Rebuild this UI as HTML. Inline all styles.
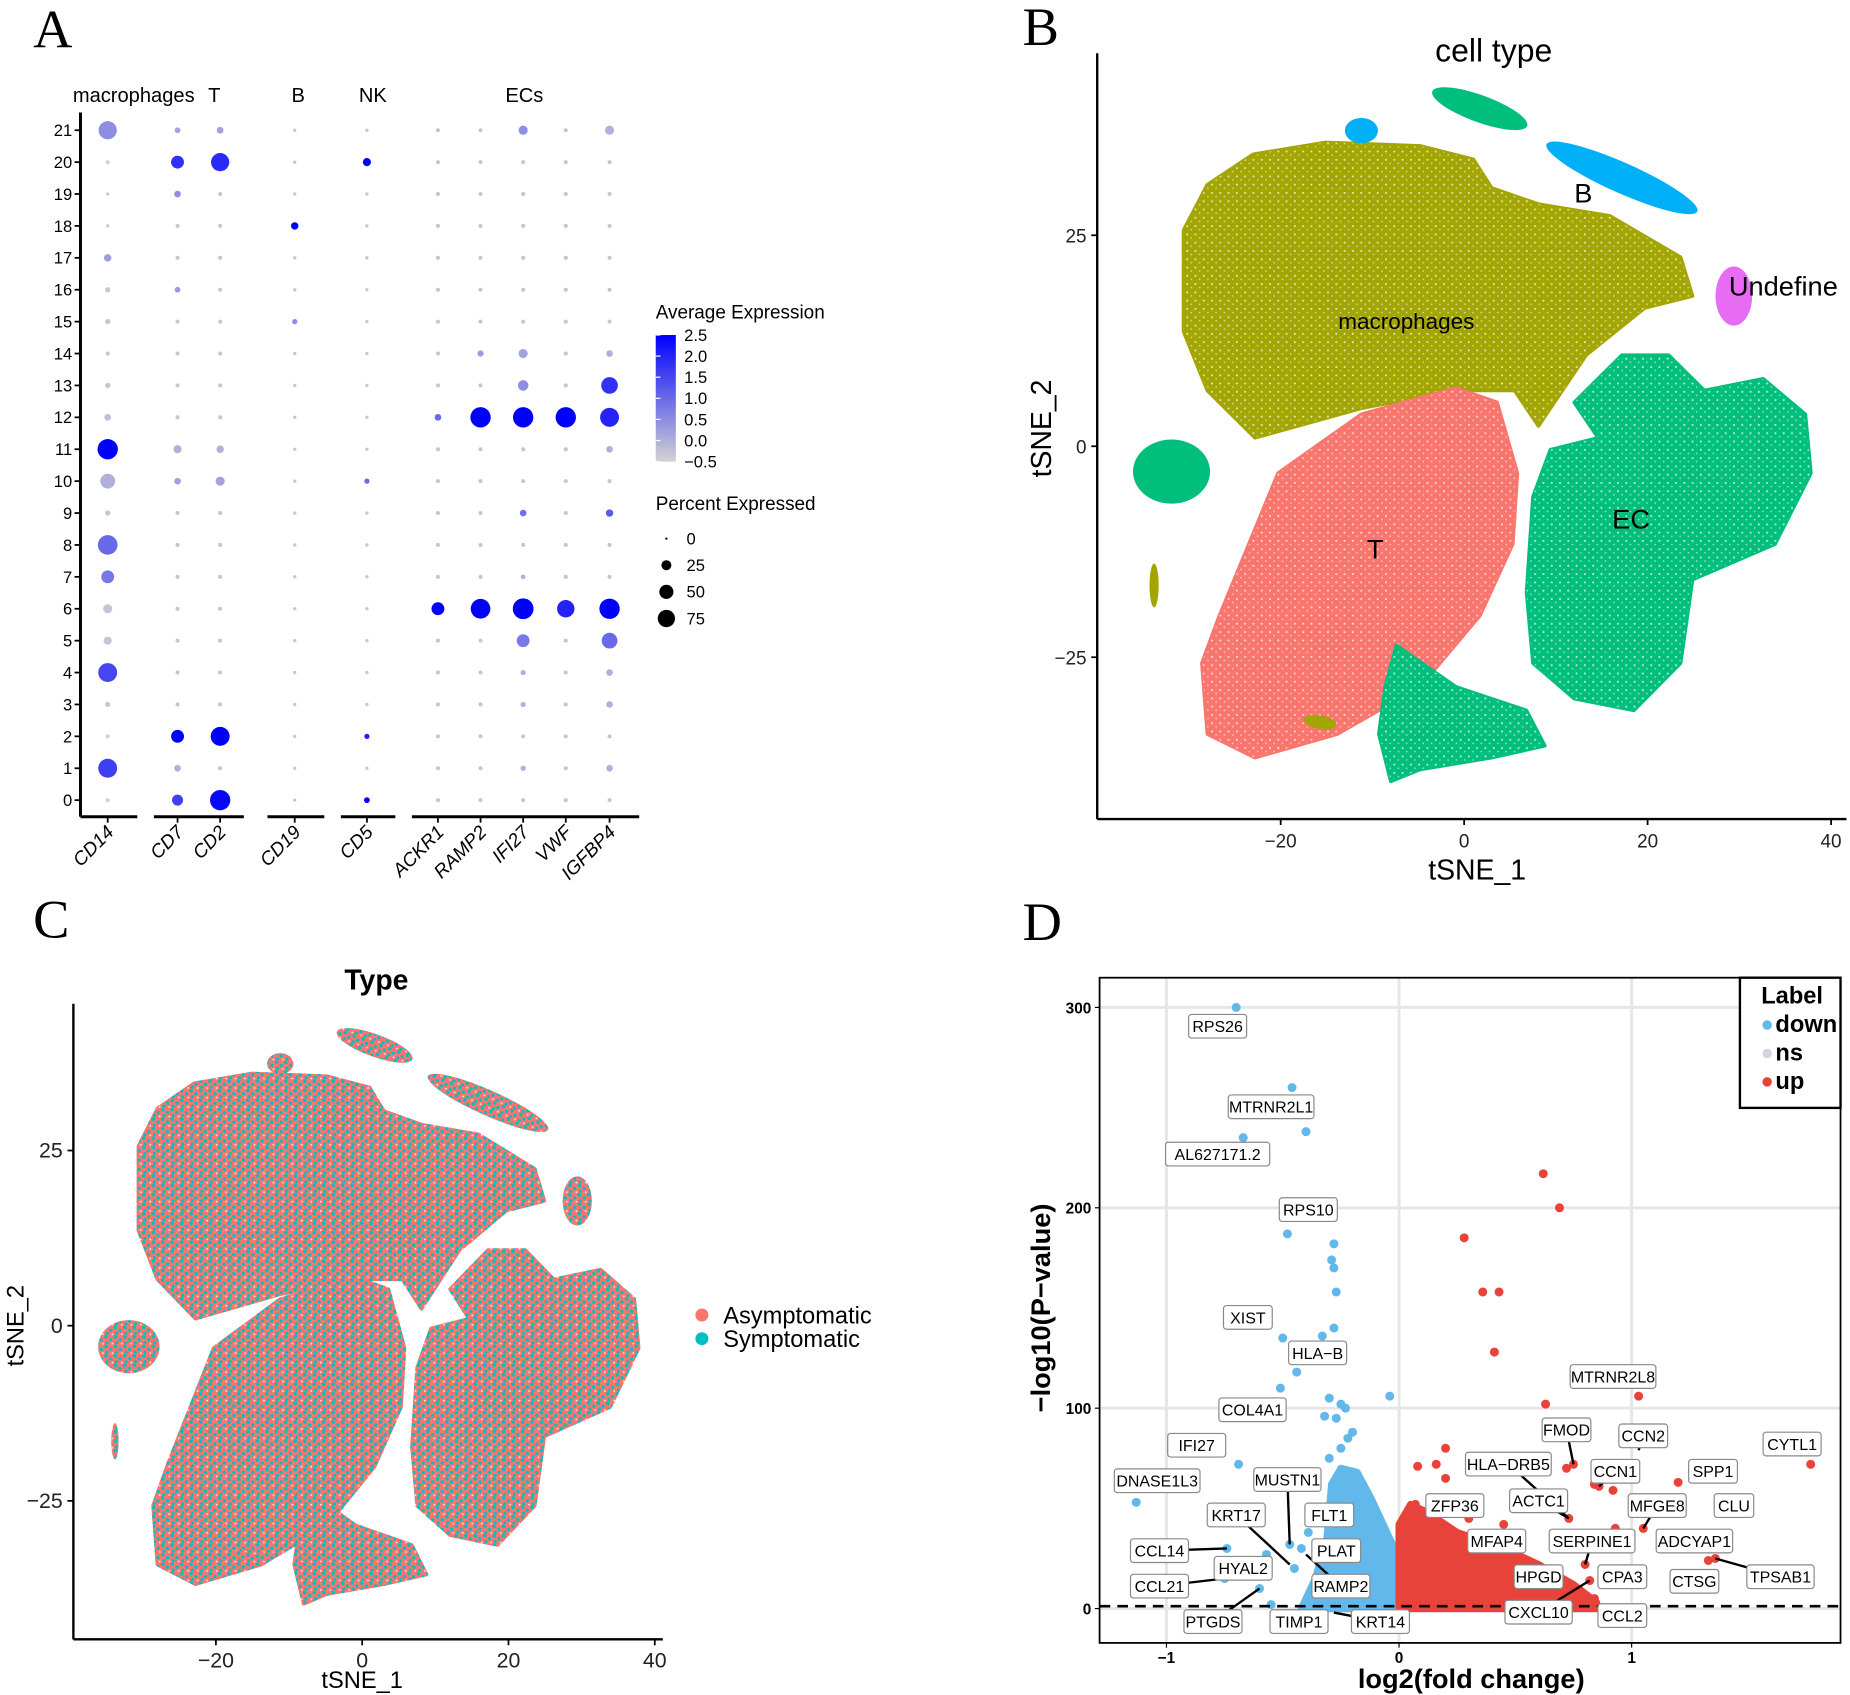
<!DOCTYPE html>
<html><head><meta charset="utf-8">
<style>
html,body{margin:0;padding:0;background:#fff;}
svg{display:block;font-family:"Liberation Sans",Arial,sans-serif;}
</style></head>
<body>
<svg id="fig" width="1850" height="1695" viewBox="0 0 1563 1432" xmlns="http://www.w3.org/2000/svg">
<defs>
  <pattern id="speckW" width="7" height="7" patternUnits="userSpaceOnUse">
    <circle cx="2" cy="2" r="0.9" fill="#fff" opacity="0.7"/><circle cx="5.5" cy="5" r="0.7" fill="#fff" opacity="0.6"/>
  </pattern>
  <pattern id="mixC" width="8" height="8" patternUnits="userSpaceOnUse">
    <rect width="8" height="8" fill="#f8766d"/>
    <circle cx="1.5" cy="1.5" r="1.5" fill="#00bfc4"/><circle cx="5.5" cy="4" r="1.4" fill="#00bfc4"/>
    <circle cx="2.5" cy="6.5" r="1.3" fill="#00bfc4"/><circle cx="7" cy="7.2" r="0.7" fill="#fff"/>
  </pattern>
  <linearGradient id="cbar" x1="0" y1="0" x2="0" y2="1">
    <stop offset="0" stop-color="#0000ff"/><stop offset="1" stop-color="#d3d3d3"/>
  </linearGradient>
</defs>
<g id="panelA"></g>
<g id="panelB"></g>
<g id="panelC"></g>
<g id="panelD"></g>
</svg>
<script>
// ---------- Panel A data ----------
const genes = ["CD14","CD7","CD2","CD19","CD5","ACKR1","RAMP2","IFI27","VWF","IGFBP4"];
const clusters = [0,1,2,3,4,5,6,7,8,9,10,11,12,13,14,15,16,17,18,19,20,21];
const pctCD14  = [3,65,3,5,65,12,15,30,70,5,40,75,8,5,3,5,5,10,2,2,3,60];
const pctCD7   = [22,8,30,3,3,3,3,3,3,3,8,12,3,3,3,3,6,3,3,8,30,6];
const pctCD2   = [75,3,65,3,3,3,3,3,3,3,15,10,3,3,3,3,3,3,3,3,60,8];
const pctCD19  = [2,2,2,2,2,2,2,2,2,2,2,2,2,2,2,5,2,2,10,2,2,2];
const pctCD5   = [6,2,5,2,2,2,2,2,2,2,5,2,2,2,2,2,2,2,2,2,12,2];
const pctACKR1 = [3,3,3,3,3,3,30,3,3,3,3,3,8,3,3,3,3,3,3,3,3,3];
const pctRAMP2 = [3,3,3,3,3,3,70,3,3,3,3,3,75,3,7,3,3,3,3,3,3,3];
const pctIFI27 = [3,5,3,5,5,30,78,4,3,8,3,3,75,20,15,3,3,3,3,3,3,15];
const pctVWF   = [3,3,3,3,3,3,55,3,3,3,3,3,75,3,3,3,3,3,3,3,3,3];
const pctIGFBP4= [3,8,3,8,8,45,75,3,3,10,3,8,65,50,8,3,3,3,3,3,3,15];
const avgCD14  = [-0.5,1.6,-0.5,-0.3,1.5,-0.3,-0.3,0.8,1.0,-0.3,0.0,2.5,-0.2,-0.3,-0.3,-0.3,-0.3,0.3,-0.3,-0.3,-0.5,0.5];
const avgCD7   = [1.6,0.0,2.5,-0.3,-0.3,-0.3,-0.3,-0.3,-0.3,-0.3,0.2,0.0,-0.3,-0.3,-0.3,-0.3,0.3,-0.3,-0.3,0.5,1.8,0.2];
const avgCD2   = [2.4,-0.3,2.5,-0.3,-0.3,-0.3,-0.3,-0.3,-0.3,-0.3,0.2,0.0,-0.3,-0.3,-0.3,-0.3,-0.3,-0.3,-0.3,-0.3,1.9,0.2];
const avgCD19  = [-0.3,-0.3,-0.3,-0.3,-0.3,-0.3,-0.3,-0.3,-0.3,-0.3,-0.3,-0.3,-0.3,-0.3,-0.3,0.5,-0.3,-0.3,2.5,-0.3,-0.3,-0.3];
const avgCD5   = [2.5,-0.3,2.0,-0.3,-0.3,-0.3,-0.3,-0.3,-0.3,-0.3,1.0,-0.3,-0.3,-0.3,-0.3,-0.3,-0.3,-0.3,-0.3,-0.3,2.5,-0.3];
const avgACKR1 = [-0.3,-0.3,-0.3,-0.3,-0.3,-0.3,2.5,-0.3,-0.3,-0.3,-0.3,-0.3,1.0,-0.3,-0.3,-0.3,-0.3,-0.3,-0.3,-0.3,-0.3,-0.3];
const avgRAMP2 = [-0.3,-0.3,-0.3,-0.3,-0.3,-0.3,2.5,-0.3,-0.3,-0.3,-0.3,-0.3,2.5,-0.3,0.3,-0.3,-0.3,-0.3,-0.3,-0.3,-0.3,-0.3];
const avgIFI27 = [-0.3,0.0,-0.3,0.0,0.0,0.8,2.5,0.0,-0.3,0.9,-0.3,-0.3,2.5,0.5,0.2,-0.3,-0.3,-0.3,-0.3,-0.3,-0.3,0.5];
const avgVWF   = [-0.3,-0.3,-0.3,-0.3,-0.3,-0.3,2.0,-0.3,-0.3,-0.3,-0.3,-0.3,2.5,-0.3,-0.3,-0.3,-0.3,-0.3,-0.3,-0.3,-0.3,-0.3];
const avgIGFBP4= [-0.3,0.0,-0.3,0.0,0.0,1.0,2.5,-0.3,-0.3,1.2,-0.3,0.0,2.0,1.8,0.0,-0.3,-0.3,-0.3,-0.3,-0.3,-0.3,0.0];
const pctSeries = [pctCD14,pctCD7,pctCD2,pctCD19,pctCD5,pctACKR1,pctRAMP2,pctIFI27,pctVWF,pctIGFBP4];
const avgSeries = [avgCD14,avgCD7,avgCD2,avgCD19,avgCD5,avgACKR1,avgRAMP2,avgIFI27,avgVWF,avgIGFBP4];
const groupNames = ["macrophages","T","B","NK","ECs"];
const colorTicks = [2.5,2.0,1.5,1.0,0.5,0.0,-0.5];
const sizeTicks = [0,25,50,75];

// ---------- Panel B/C data ----------
const macroOutline = [[-30.6,25.6],[-28,31],[-23,34.6],[-15.1,36.0],[-4.8,35.6],[1.0,34.0],[3.0,30.6],[8.1,28.7],[15.9,27.3],[23.6,22.4],[24.9,17.8],[19.7,16.4],[13.3,10.8],[8.1,2.4],[5.5,6.6],[-0.9,6.6],[-11.2,4.5],[-22.8,1.0],[-28.0,6.6],[-30.6,13.6]];
const tOutline = [[-28.6,-25.7],[-26.7,-20.1],[-20.3,-3.2],[-11.2,3.8],[-0.9,6.9],[3.6,5.2],[5.8,-3.2],[5.3,-11.6],[1.7,-20.1],[-4.8,-28.5],[-13.8,-34.1],[-22.8,-36.9],[-28.0,-34.1]];
const ecOutline = [[6.8,-17.3],[7.5,-6.0],[9.4,-0.4],[14.6,1.0],[12.0,5.2],[17.2,10.8],[22.3,10.8],[26.2,6.6],[32.6,8.0],[37.2,3.8],[37.8,-3.2],[33.9,-11.6],[24.9,-15.8],[23.6,-25.7],[18.5,-31.3],[12.0,-29.9],[7.5,-25.7]];
const ecBottomOutline = [[-8.6,-28.5],[-7.4,-23.6],[-0.9,-28.5],[6.8,-31.3],[8.8,-35.5],[3.0,-36.9],[-4.8,-38.3],[-8.0,-39.7],[-9.3,-34.1]];
const smallClusters = [[-31.9,-3.0,4.2,3.8,0,"EC"],[1.7,40.0,5.5,1.6,20,"EC"],[-11.2,37.4,1.8,1.5,0,"B"],[17.2,31.8,9.0,1.8,24,"B"],[29.4,17.8,2.0,3.5,0,"Undefine"],[-15.7,-32.7,1.8,0.8,10,"macrophages"],[-33.8,-16.5,0.5,2.6,0,"macrophages"]];
const clusterLabels = [["B",13.0,30.0],["Undefine",34.8,19.0],["macrophages",-6.3,15.0],["T",-9.7,-12.2],["EC",18.2,-8.6]];
const tsneXTicks = [-20,0,20,40];
const tsneYTicks = [25,0,-25];

// ---------- Panel D data ----------
const downX = [-0.7,-0.46,-0.4,-0.67,-0.48,-0.28,-0.29,-0.28,-0.27,-0.5,-0.28,-0.33,-0.28,-0.44,-0.51,-0.3,-0.25,-0.23,-0.32,-0.27,-0.04,-0.3,-0.69,-1.13,-0.74,-0.57,-0.6,-0.75,-0.47,-0.39,-0.42,-0.55,-0.25,-0.22,-0.2,-0.35,-0.33,-0.45];
const downY = [300,260,238,235,187,182,174,170,158,135,140,136,128,118,110,105,102,100,96,95,106,75,72,53,30,27,10,15,32,38,30,2,80,85,88,45,25,20];
const upX = [0.62,0.69,0.28,0.36,0.43,0.41,0.63,1.03,0.2,0.08,0.16,0.2,0.72,0.75,0.84,0.86,0.92,1.2,1.77,0.07,0.73,0.93,1.05,1.36,1.33,0.8,0.82,0.84,0.5,0.6,0.55,0.7,0.45,0.3];
const upY = [217,200,185,158,158,128,102,106,80,71,72,65,70,72,62,61,59,63,72,52,45,40,40,25,24,22,14,5,10,12,15,8,42,45];
const downCloud = [[-0.42,0],[-0.36,15],[-0.31,35],[-0.29,62],[-0.25,70],[-0.18,68],[-0.12,55],[-0.06,40],[0,25],[0,0]];
const upCloud = [[0,0],[0,42],[0.05,52],[0.12,48],[0.25,38],[0.45,30],[0.6,22],[0.75,12],[0.85,3],[0.85,0]];
const geneLabels = ["RPS26","MTRNR2L1","AL627171.2","RPS10","XIST","HLA-B","COL4A1","IFI27","DNASE1L3","MUSTN1","KRT17","FLT1","CCL14","PLAT","HYAL2","CCL21","RAMP2","PTGDS","TIMP1","KRT14","MTRNR2L8","FMOD","CCN2","CYTL1","HLA-DRB5","CCN1","SPP1","ZFP36","ACTC1","MFGE8","CLU","MFAP4","SERPINE1","ADCYAP1","HPGD","CPA3","CTSG","TPSAB1","CXCL10","CCL2"];
const labelX = [-0.78,-0.55,-0.78,-0.39,-0.65,-0.35,-0.63,-0.87,-1.04,-0.48,-0.70,-0.30,-1.03,-0.27,-0.67,-1.03,-0.25,-0.80,-0.43,-0.08,0.92,0.72,1.05,1.69,0.47,0.93,1.35,0.24,0.60,1.11,1.44,0.42,0.83,1.27,0.60,0.96,1.27,1.64,0.60,0.96];
const labelY = [290.6,250.4,226.8,199.1,145.3,127.6,99.2,81.5,63.8,64.4,46.7,46.7,28.9,28.9,20.1,11.2,11.2,-6.5,-6.5,-6.5,115.8,89.2,86.2,82.1,72.1,68.5,68.5,51.4,53.8,51.4,51.4,33.7,33.7,33.7,15.9,15.9,13.6,15.9,-1.8,-3.5];
const volXTicks = [-1,0,1];
const volYTicks = [0,100,200,300];

const NS = "http://www.w3.org/2000/svg";
function mk(parent, tag, attrs, text) {
  const e = document.createElementNS(NS, tag);
  for (const k in attrs) e.setAttribute(k, attrs[k]);
  if (text !== undefined) e.textContent = text;
  parent.appendChild(e);
  return e;
}
function txt(parent, x, y, s, size, opts, name) {
  const o = Object.assign({x:x, y:y, "font-size":size, fill:"#000"}, opts || {});
  const t = mk(parent, "text", o, s);
  
  
  return t;
}
function panelLetter(parent, s, x, y) {
  const t = mk(parent, "text", {x:x, y:y, "font-size":46, "font-family":"Liberation Serif, serif"}, s);
  
  
}

// ================= Panel A =================
(function(){
  const g = document.getElementById("panelA");
  panelLetter(g, "A", 28, 40);
  const colX = [91,150,186,249,310,370,406,442,478,515];
  const yA = c => 676 - c * (566/21);
  const colorOf = v => { let t = Math.max(0, Math.min(1, (v + 0.5) / 3)); const r = Math.round(211*(1-t)); const b = Math.round(211 + 44*t); return `rgb(${r},${r},${b})`; };
  const sizeOf = p => Math.max(1.2, Math.sqrt(p/75) * 8.6);
  const groupX = [113,181,252,315,443];
  groupNames.forEach((n,i) => txt(g, groupX[i], 86, n, 17, {"text-anchor":"middle"}, 'group-label-' + n.toLowerCase()));
  const ax = mk(g, "line", {x1:68, y1:95, x2:68, y2:690, stroke:"#000", "stroke-width":2.5});
   
  clusters.forEach(c => {
    const y = yA(c);
    const tk = mk(g, "line", {x1:63, y1:y, x2:68, y2:y, stroke:"#000", "stroke-width":1.5});
     
    txt(g, 61, y + 5, String(c), 14, {"text-anchor":"end"}, 'y-tick-label');
  });
  const segs = [[68,116],[130,206],[226,274],[288,334],[348,540]];
  segs.forEach(s => {
    const l = mk(g, "line", {x1:s[0], y1:690, x2:s[1], y2:690, stroke:"#000", "stroke-width":2.5});
     
  });
  genes.forEach((gn, j) => {
    const x = colX[j];
    const tk = mk(g, "line", {x1:x, y1:690, x2:x, y2:695, stroke:"#000", "stroke-width":1.5});
     
    txt(g, x + 6, 704, gn, 16, {"text-anchor":"end", "font-style":"italic", transform:`rotate(-45 ${x+6} 704)`}, 'gene-label-' + gn.toLowerCase());
    clusters.forEach(c => {
      const d = mk(g, "circle", {cx:x, cy:yA(c), r:sizeOf(pctSeries[j][c]), fill:colorOf(avgSeries[j][c])});
      
      
    });
  });
  txt(g, 554, 269, "Average Expression", 16, {}, 'color-legend-title');
  const cb = mk(g, "rect", {x:554, y:283, width:17, height:107, fill:"url(#cbar)"});
   
  colorTicks.forEach(v => {
    const y = 283 + (2.5 - v) / 3 * 107;
    const l = mk(g, "line", {x1:554, y1:y, x2:558, y2:y, stroke:"#fff"});
     
    txt(g, 578, y + 5, v.toFixed(1).replace("-", "\u2212"), 14, {}, 'colorbar-tick-label');
  });
  txt(g, 554, 431, "Percent Expressed", 16, {}, 'size-legend-title');
  sizeTicks.forEach((p, i) => {
    const y = 455 + i * 22.5;
    const d = mk(g, "circle", {cx:563, cy:y, r:sizeOf(p) * (p===0?0.8:0.85), fill:"#000"});
     
    txt(g, 580, y + 5, String(p), 14, {}, 'size-legend-label');
  });
})();

function drawTsne(g, sx, sy, fills, outlined) {
  const pts = arr => arr.map(p => sx(p[0]).toFixed(1) + "," + sy(p[1]).toFixed(1)).join(" ");
  const shapes = [[macroOutline,"macrophages"],[tOutline,"T"],[ecOutline,"EC"],[ecBottomOutline,"EC"]];
  shapes.forEach(([o, type]) => {
    const p = mk(g, "polygon", {points:pts(o), fill:fills[type], stroke:fills[type], "stroke-width":3, "stroke-linejoin":"round"});
    
    
    if (outlined) {
      const q = mk(g, "polygon", {points:pts(o), fill:"url(#speckW)"});
       
    }
  });
  smallClusters.forEach(c => {
    const cx = sx(c[0]), cy = sy(c[1]);
    const rx = Math.abs(sx(c[0] + c[2]) - cx), ry = Math.abs(sy(c[1] + c[3]) - cy);
    const e = mk(g, "ellipse", {cx:cx, cy:cy, rx:rx, ry:ry, fill:fills[c[5]], transform:`rotate(${c[4]} ${cx} ${cy})`});
    
    
  });
}
function tsneAxes(g, sx, sy, x0, x1, y0, y1, fs) {
  const a1 = mk(g, "line", {x1:x0, y1:y0, x2:x0, y2:y1, stroke:"#000", "stroke-width":2});
   
  const a2 = mk(g, "line", {x1:x0, y1:y1, x2:x1, y2:y1, stroke:"#000", "stroke-width":2});
   
  tsneXTicks.forEach(v => {
    const x = sx(v);
    const t = mk(g, "line", {x1:x, y1:y1, x2:x, y2:y1 + 5, stroke:"#000", "stroke-width":1.5});
     
    txt(g, x, y1 + 24, String(v).replace("-", "\u2212"), fs, {"text-anchor":"middle", fill:"#222"}, 'x-tick-label');
  });
  tsneYTicks.forEach(v => {
    const y = sy(v);
    const t = mk(g, "line", {x1:x0 - 5, y1:y, x2:x0, y2:y, stroke:"#000", "stroke-width":1.5});
     
    txt(g, x0 - 9, y + 6, String(v).replace("-", "\u2212"), fs, {"text-anchor":"end", fill:"#222"}, 'y-tick-label');
  });
}

(function(){
  const g = document.getElementById("panelB");
  panelLetter(g, "B", 864, 38);
  const sx = v => 1237 + v * 7.75, sy = v => 377 - v * 7.13;
  const fills = {macrophages:"#a3a500", T:"#f8766d", EC:"#00bf7d", B:"#00b0f6", Undefine:"#e76bf3"};
  drawTsne(g, sx, sy, fills, true);
  tsneAxes(g, sx, sy, 927, 1560, 45, 692, 16);
  clusterLabels.forEach(l => txt(g, sx(l[1]), sy(l[2]) + 8, l[0], l[0]==="macrophages" ? 19 : 23, {"text-anchor":"middle"}, 'cluster-label-' + l[0].toLowerCase()));
  txt(g, 1262, 52, "cell type", 27, {"text-anchor":"middle"}, 'chart-title');
  txt(g, 1248, 743, "tSNE_1", 24, {"text-anchor":"middle"}, 'x-axis-title');
  txt(g, 888, 362, "tSNE_2", 24, {"text-anchor":"middle", transform:"rotate(-90 888 362)"}, 'y-axis-title');
})();

(function(){
  const g = document.getElementById("panelC");
  panelLetter(g, "C", 28, 792);
  const sx = v => 306 + v * 6.18, sy = v => 1120 - v * 5.92;
  const fills = {macrophages:"url(#mixC)", T:"url(#mixC)", EC:"url(#mixC)", B:"url(#mixC)", Undefine:"url(#mixC)"};
  drawTsne(g, sx, sy, fills, false);
  tsneAxes(g, sx, sy, 62, 560, 848, 1385, 18);
  txt(g, 318, 836, "Type", 24, {"text-anchor":"middle", "font-weight":"bold"}, 'chart-title');
  txt(g, 306, 1426, "tSNE_1", 20, {"text-anchor":"middle"}, 'x-axis-title');
  txt(g, 20, 1120, "tSNE_2", 20, {"text-anchor":"middle", transform:"rotate(-90 20 1120)"}, 'y-axis-title');
  const items = [["Asymptomatic","#f8766d"],["Symptomatic","#00bfc4"]];
  items.forEach((it, i) => {
    const y = 1111 + i * 20;
    const d = mk(g, "circle", {cx:593, cy:y, r:5.5, fill:it[1]});
     
    txt(g, 611, y + 7, it[0], 20, {}, 'legend-entry-' + it[0].toLowerCase());
  });
})();

(function(){
  const g = document.getElementById("panelD");
  panelLetter(g, "D", 864, 794);
  const sx = v => 1182 + v * 196.5, sy = v => 1359 - v * 1.693;
  const L = 929, R = 1555, T = 826, B = 1388;
  const bg = mk(g, "rect", {x:L, y:T, width:R-L, height:B-T, fill:"#fff"});
   
  volXTicks.forEach(v => { const l = mk(g, "line", {x1:sx(v), y1:T, x2:sx(v), y2:B, stroke:"#e6e6e6", "stroke-width":2.5});   });
  volYTicks.forEach(v => { const l = mk(g, "line", {x1:L, y1:sy(v), x2:R, y2:sy(v), stroke:"#e6e6e6", "stroke-width":2.5});   });
  const pts = arr => arr.map(p => sx(p[0]).toFixed(1) + "," + sy(p[1]).toFixed(1)).join(" ");
  const ns = mk(g, "rect", {x:sx(-0.4), y:sy(1), width:sx(0.9)-sx(-0.4), height:sy(-2)-sy(1), fill:"#d0d5de"});
   
  const dc = mk(g, "polygon", {points:pts(downCloud), fill:"#62b8eb", stroke:"#62b8eb", "stroke-width":6, "stroke-linejoin":"round"});
   
  const uc = mk(g, "polygon", {points:pts(upCloud), fill:"#e8433a", stroke:"#e8433a", "stroke-width":6, "stroke-linejoin":"round"});
   
  downX.forEach((x, i) => { const c = mk(g, "circle", {cx:sx(x), cy:sy(downY[i]), r:3.8, fill:"#62b8eb"});   });
  upX.forEach((x, i) => { const c = mk(g, "circle", {cx:sx(x), cy:sy(upY[i]), r:3.8, fill:"#e8433a"});   });
  const dash = mk(g, "line", {x1:L, y1:sy(0)-2, x2:R, y2:sy(0)-2, stroke:"#000", "stroke-width":2.2, "stroke-dasharray":"9,6"});
   
  const leaders = [[9,-0.47,32],[10,-0.47,22],[12,-0.74,30],[15,-0.75,15],[17,-0.6,10],[19,-0.28,-2],[16,-0.4,27],[21,0.75,72],[22,1.03,79],[25,0.86,61],[28,0.73,45],[29,1.05,40],[32,0.8,22],[37,1.36,25],[38,0.82,14],[24,0.73,45]];
  leaders.forEach(l => {
    const i = l[0];
    const ln = mk(g, "line", {x1:sx(labelX[i]), y1:sy(labelY[i]), x2:sx(l[1]), y2:sy(l[2]), stroke:"#000", "stroke-width":2});
     
  });
  geneLabels.forEach((s, i) => {
    const cx = sx(labelX[i]), cy = sy(labelY[i]);
    const w = s.length * 7.8 + 10;
    const r = mk(g, "rect", {x:cx - w/2, y:cy - 10, width:w, height:20, rx:2.5, fill:"#fff", stroke:"#888", "stroke-width":1});
     
    txt(g, cx, cy + 5, s.replace("-", "\u2212"), 13.5, {"text-anchor":"middle"}, 'gene-label-' + s.toLowerCase());
  });
  const fr = mk(g, "rect", {x:L, y:T, width:R-L, height:B-T, fill:"none", stroke:"#000", "stroke-width":1.5});
   
  volXTicks.forEach(v => {
    const t = mk(g, "line", {x1:sx(v), y1:B, x2:sx(v), y2:B + 4, stroke:"#000"});
     
    txt(g, sx(v), B + 17, String(v).replace("-", "\u2212"), 13, {"text-anchor":"middle", "font-weight":"bold"}, 'x-tick-label');
  });
  volYTicks.forEach(v => {
    const t = mk(g, "line", {x1:L - 4, y1:sy(v), x2:L, y2:sy(v), stroke:"#000"});
     
    txt(g, L - 7, sy(v) + 5, String(v), 13, {"text-anchor":"end", "font-weight":"bold"}, 'y-tick-label');
  });
  txt(g, 1243, 1426, "log2(fold change)", 23, {"text-anchor":"middle", "font-weight":"bold"}, 'x-axis-title');
  txt(g, 887, 1105, "\u2212log10(P\u2212value)", 23, {"text-anchor":"middle", "font-weight":"bold", transform:"rotate(-90 887 1105)"}, 'y-axis-title');
  const lb = mk(g, "rect", {x:1470, y:826, width:85, height:110, fill:"#fff", stroke:"#000", "stroke-width":2});
   
  txt(g, 1488, 848, "Label", 20, {"font-weight":"bold"}, 'legend-title');
  const li = [["down","#62b8eb"],["ns","#d0d5de"],["up","#e8433a"]];
  li.forEach((it, i) => {
    const y = 866 + i * 24;
    const c = mk(g, "circle", {cx:1493, cy:y, r:4, fill:it[1]});
     
    txt(g, 1500, y + 6, it[0], 20, {"font-weight":"bold"}, 'legend-entry-' + it[0]);
  });
})();
</script>
</body></html>
